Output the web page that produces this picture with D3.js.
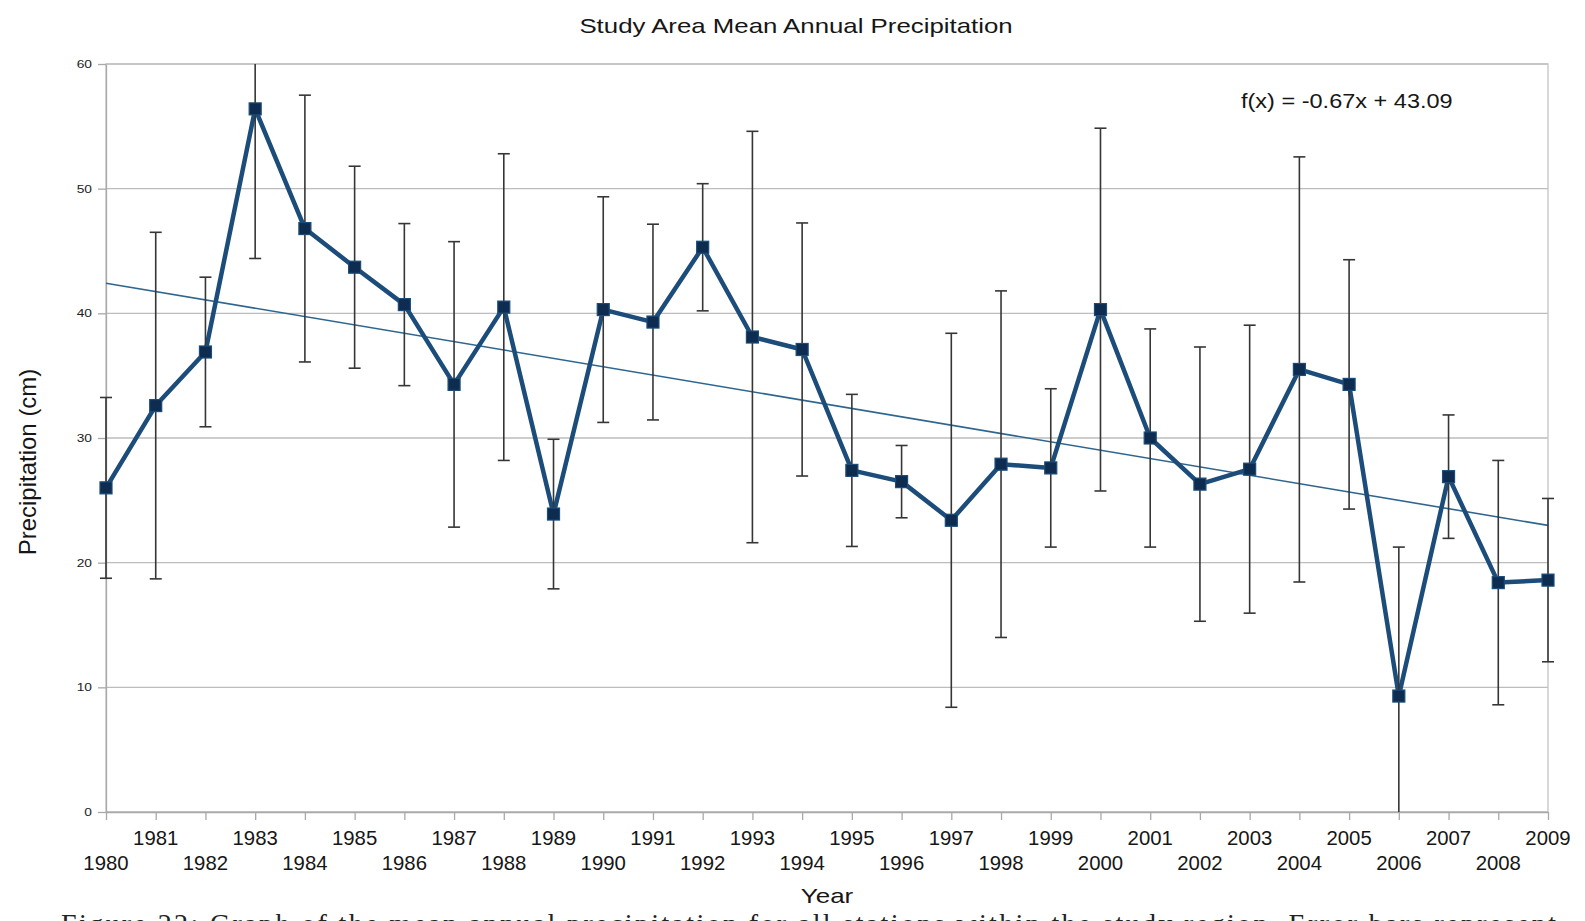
<!DOCTYPE html>
<html>
<head>
<meta charset="utf-8">
<script src="https://cdn.jsdelivr.net/npm/d3@7"></script>
<style>
  html, body { margin: 0; padding: 0; background: #fff; overflow: hidden; }
  svg { display: block; }
</style>
</head>
<body>
<svg id="chart" width="1585" height="921"></svg>
<script>
// ---- data -------------------------------------------------------------
const years = [1980, 1981, 1982, 1983, 1984, 1985, 1986, 1987, 1988, 1989,
               1990, 1991, 1992, 1993, 1994, 1995, 1996, 1997, 1998, 1999,
               2000, 2001, 2002, 2003, 2004, 2005, 2006, 2007, 2008, 2009];

// mean annual precipitation (cm)
const meanPrecip = [26.0, 32.6, 36.9, 56.4, 46.8, 43.7, 40.7, 34.3, 40.5, 23.9,
                    40.3, 39.3, 45.3, 38.1, 37.1, 27.4, 26.5, 23.4, 27.9, 27.6,
                    40.3, 30.0, 26.3, 27.5, 35.5, 34.3, 9.3, 26.9, 18.4, 18.6];

// standard deviation across stations (cm), drawn as symmetric error bars
const stdDev = [7.25, 13.9, 6.0, 12.0, 10.7, 8.1, 6.5, 11.45, 12.3, 6.0,
                9.05, 7.85, 5.1, 16.5, 10.15, 6.1, 2.9, 15.0, 13.9, 6.35,
                14.55, 8.75, 11.0, 11.55, 17.05, 10.0, 11.95, 4.95, 9.8, 6.55];

const yTicks = [0, 10, 20, 30, 40, 50, 60];

// linear trend f(x) = a*x + b, x = 1 for the first year
const trendSlope = -0.67;
const trendIntercept = 43.09;

const chartTitle = "Study Area Mean Annual Precipitation";
const yAxisTitle = "Precipitation (cm)";
const xAxisTitle = "Year";
const trendLabel = "f(x) = -0.67x + 43.09";
const captionText = "Figure 22: Graph of the mean annual precipitation for all stations within the study region.  Error bars represent";

// ---- layout -----------------------------------------------------------
const plot = { left: 106, right: 1548, top: 64, bottom: 812 };
const svg = d3.select("#chart");

const x = d3.scalePoint().domain(years).range([plot.left, plot.right]);
const y = d3.scaleLinear().domain([0, 60]).range([plot.bottom, plot.top]);

const sans = "'Liberation Sans', Arial, sans-serif";
const ink = "#161616";

// text helper: horizontally widened glyphs around the anchor point
function label(parent, tx, ty, str, opts) {
  const g = parent.append("g").attr("transform", `translate(${tx},${ty})` + (opts.rotate ? ` rotate(${opts.rotate})` : ""));
  return g.append("text")
    .attr("transform", `scale(${opts.sx || 1},1)`)
    .attr("text-anchor", opts.anchor || "start")
    .attr("font-family", opts.family || sans)
    .attr("font-size", opts.size)
    .attr("fill", opts.fill || ink)
    .text(str);
}

// ---- grid and frame ---------------------------------------------------
svg.append("g")
  .selectAll("line")
  .data(yTicks)
  .join("line")
  .attr("x1", plot.left).attr("x2", plot.right)
  .attr("y1", d => y(d)).attr("y2", d => y(d))
  .attr("stroke", "#bdbdbd").attr("stroke-width", 1.3);

svg.append("rect")
  .attr("x", plot.left).attr("y", plot.top)
  .attr("width", plot.right - plot.left).attr("height", plot.bottom - plot.top)
  .attr("fill", "none").attr("stroke", "#c4c4c4").attr("stroke-width", 1.3);

// ---- axes -------------------------------------------------------------
const yAxis = svg.append("g")
  .attr("transform", `translate(${plot.left},0)`)
  .call(d3.axisLeft(y).tickValues(yTicks).tickSize(8).tickSizeOuter(0).tickFormat(""));
const xAxis = svg.append("g")
  .attr("transform", `translate(0,${plot.bottom})`)
  .call(d3.axisBottom(x).tickSize(8).tickSizeOuter(0).tickFormat(""));
[yAxis, xAxis].forEach(a => {
  a.select(".domain").attr("stroke", "#a9a9a9").attr("stroke-width", 1.3);
  a.selectAll(".tick line").attr("stroke", "#a9a9a9").attr("stroke-width", 1.3);
});

yTicks.forEach(v => {
  label(svg, 92, y(v) + 4, String(v), { size: 11, sx: 1.25, anchor: "end", fill: "#222" });
});

years.forEach((yr, i) => {
  const base = i % 2 === 1 ? 845 : 870;
  label(svg, x(yr), base, String(yr), { size: 21, sx: 0.97, anchor: "middle" });
});

// ---- titles -----------------------------------------------------------
label(svg, 796, 33, chartTitle, { size: 21, sx: 1.23, anchor: "middle" });
label(svg, 827, 903, xAxisTitle, { size: 20, sx: 1.3, anchor: "middle" });
label(svg, 36, 462, yAxisTitle, { size: 24, sx: 1, anchor: "middle", rotate: -90 });
label(svg, 1241, 108, trendLabel, { size: 21, sx: 1.12, anchor: "start" });

// ---- trend line -------------------------------------------------------
const trendAt = i => trendIntercept + trendSlope * (i + 1);
svg.append("line")
  .attr("x1", x(years[0])).attr("y1", y(trendAt(0)))
  .attr("x2", x(years[years.length - 1])).attr("y2", y(trendAt(years.length - 1)))
  .attr("stroke", "#2e6690").attr("stroke-width", 1.6);

// ---- series line ------------------------------------------------------
const series = years.map((yr, i) => ({ yr, v: meanPrecip[i], sd: stdDev[i] }));

svg.append("path")
  .datum(series)
  .attr("fill", "none")
  .attr("stroke", "#1b4c7a")
  .attr("stroke-width", 4.5)
  .attr("stroke-linejoin", "round")
  .attr("d", d3.line().x(d => x(d.yr)).y(d => y(d.v)));

// ---- error bars (clipped to the 0–60 range) ---------------------------
const capHalf = 6;
const eb = svg.append("g").attr("stroke", "#363636").attr("stroke-width", 1.6);
series.forEach(d => {
  const hiRaw = d.v + d.sd, loRaw = d.v - d.sd;
  const hi = Math.min(60, hiRaw), lo = Math.max(0, loRaw);
  const cx = x(d.yr);
  eb.append("line").attr("x1", cx).attr("x2", cx).attr("y1", y(hi)).attr("y2", y(lo));
  if (hiRaw <= 60) eb.append("line").attr("x1", cx - capHalf).attr("x2", cx + capHalf).attr("y1", y(hi)).attr("y2", y(hi));
  if (loRaw >= 0) eb.append("line").attr("x1", cx - capHalf).attr("x2", cx + capHalf).attr("y1", y(lo)).attr("y2", y(lo));
});

// ---- markers ----------------------------------------------------------
svg.append("g")
  .selectAll("rect")
  .data(series)
  .join("rect")
  .attr("x", d => x(d.yr) - 6).attr("y", d => y(d.v) - 6)
  .attr("width", 12).attr("height", 12)
  .attr("fill", "#0d2c50")
  .attr("stroke", "#1b4c7a").attr("stroke-width", 1.2);

// ---- figure caption (runs past the lower edge) ------------------------
svg.append("text")
  .attr("x", 61).attr("y", 933)
  .attr("font-family", "'Liberation Serif', 'DejaVu Serif', serif")
  .attr("font-size", 28)
  .attr("fill", "#222")
  .attr("textLength", 1495)
  .attr("lengthAdjust", "spacing")
  .text(captionText);
</script>
</body>
</html>
